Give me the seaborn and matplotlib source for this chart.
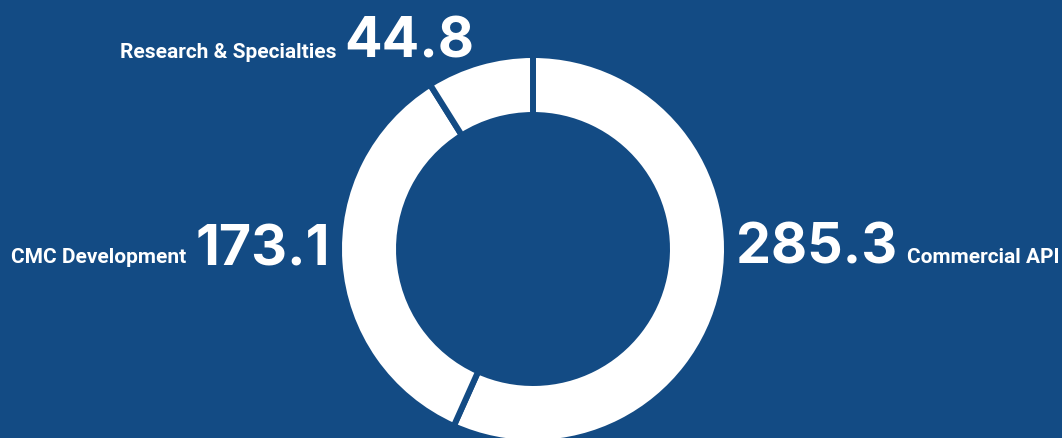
import matplotlib
matplotlib.use("Agg")
import matplotlib.pyplot as plt
import seaborn as sns

segments = ["Commercial API", "CMC Development", "Research & Specialties"]
values = [285.3, 173.1, 44.8]
value_labels = ["285.3", "173.1", "44.8"]

BG = "#134b84"
W, H, DPI = 1062, 438, 100

sns.set_theme(style="white")
plt.rcParams["font.family"] = ["Roboto", "DejaVu Sans"]

fig = plt.figure(figsize=(W / DPI, H / DPI), dpi=DPI, facecolor=BG)
ax = fig.add_axes([0, 0, 1, 1])
ax.set_facecolor(BG)

# donut, drawn in pixel-like data units so the layout matches the reference
cx, cy = 533, H - 249
outer, inner = 194, 134
ax.pie(values, startangle=90, counterclock=False, center=(cx, cy), radius=outer,
       colors=["white"] * len(values),
       wedgeprops=dict(width=outer - inner, edgecolor=BG, linewidth=4.3))
ax.set_xlim(0, W)
ax.set_ylim(0, H)
ax.set_aspect("equal")
ax.axis("off")

num_kw = dict(color="white", fontsize=40, fontweight="bold", va="baseline",
              family=["Inter", "DejaVu Sans"])
lab_kw = dict(color="white", fontsize=15, fontweight="bold", va="baseline")

# Commercial API (right)
ax.text(736, H - 264, value_labels[0], ha="left", **num_kw)
ax.text(907, H - 263, segments[0], ha="left", **lab_kw)
# CMC Development (left)
ax.text(330, H - 265, value_labels[1], ha="right", **num_kw)
ax.text(186, H - 263, segments[1], ha="right", **lab_kw)
# Research & Specialties (top)
ax.text(474, H - 58, value_labels[2], ha="right", **num_kw)
ax.text(337, H - 58, segments[2], ha="right", **lab_kw)

fig.savefig("out.png", dpi=DPI, facecolor=BG)
